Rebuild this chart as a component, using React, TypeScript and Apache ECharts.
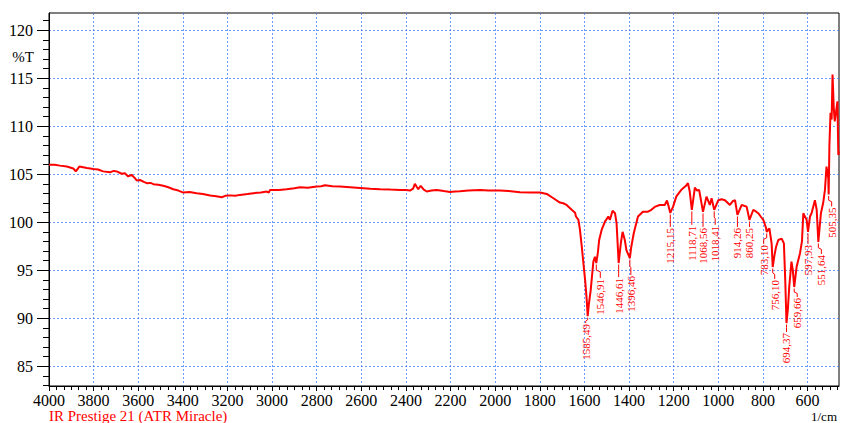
import React, { useEffect, useRef } from 'react';
import * as echarts from 'echarts';

// Spectrum trace (wavenumber in 1/cm, %T)
const WAVENUMBER = [
  4000, 3975, 3951, 3920, 3891, 3880, 3864, 3830, 3801, 3780, 3757, 3727, 3710, 3697, 3674, 3660, 3645, 3630, 3615, 3607,
  3592, 3575, 3562, 3545, 3532, 3510, 3488, 3465, 3443, 3420, 3398, 3370, 3338, 3310, 3278, 3250, 3226, 3210, 3189, 3165,
  3144, 3110, 3084, 3050, 3024, 3015, 3009, 2970, 2935, 2900, 2875, 2840, 2800, 2780, 2763, 2730, 2696, 2650, 2606, 2560,
  2516, 2470, 2427, 2400, 2382, 2368, 2360, 2352, 2345, 2334, 2320, 2307, 2285, 2262, 2230, 2203, 2180, 2158, 2120, 2068,
  2030, 1979, 1940, 1889, 1840, 1799, 1769, 1739, 1710, 1695, 1680, 1657, 1642, 1638, 1627, 1620, 1612, 1597, 1590, 1585.49,
  1580, 1572, 1560, 1553, 1546.91, 1540, 1534, 1523, 1508, 1493, 1486, 1474, 1463, 1456, 1446.61, 1437, 1429, 1419, 1412, 1396.46,
  1390, 1379, 1360, 1338, 1315, 1300, 1285, 1263, 1240, 1230, 1222, 1215.15, 1203, 1188, 1166, 1158, 1145, 1136, 1128, 1118.71,
  1105, 1095, 1086, 1080, 1068.56, 1053, 1038, 1030, 1018.41, 1000, 985, 970, 948, 935, 925, 914.26, 895, 873, 860.25, 843,
  830, 821, 810, 798, 786, 783.1, 771, 761, 756.1, 748, 741, 731, 716, 706, 700, 694.37, 688, 682, 672, 666,
  659.66, 649, 634, 625, 619, 604, 597.93, 589, 582, 567, 559, 551.64, 540, 530, 522, 515, 507, 505.35, 502, 497,
  492, 488, 482, 478, 470, 466, 462, 459,
];
const TRANSMITTANCE = [
  105.98, 106.0, 105.9, 105.8, 105.6, 105.3, 105.8, 105.65, 105.55, 105.5, 105.3, 105.2, 105.35, 105.3, 105.05, 105.1, 104.77, 104.94, 104.6, 104.35,
  104.4, 104.2, 104.07, 104.1, 103.97, 103.9, 103.8, 103.65, 103.44, 103.3, 103.09, 103.15, 103.03, 102.95, 102.78, 102.7, 102.6, 102.75, 102.8, 102.75,
  102.85, 102.95, 103.03, 103.1, 103.2, 103.1, 103.37, 103.35, 103.44, 103.55, 103.65, 103.6, 103.72, 103.75, 103.86, 103.75, 103.72, 103.65, 103.58, 103.5,
  103.44, 103.4, 103.37, 103.35, 103.3, 103.5, 104.0, 103.7, 103.44, 103.8, 103.4, 103.2, 103.3, 103.37, 103.25, 103.16, 103.2, 103.23, 103.3, 103.37,
  103.3, 103.3, 103.25, 103.13, 103.1, 103.1, 102.95, 102.5, 102.05, 101.98, 101.8, 101.3, 101.0, 100.6, 100.24, 99.2, 97.45, 93.98, 92.0, 90.22,
  91.5, 92.9, 95.9, 96.4, 95.75, 96.8, 98.15, 99.2, 100.07, 100.6, 100.24, 101.2, 100.94, 99.9, 95.75, 97.8, 99.0, 98.15, 97.1, 96.27,
  97.45, 98.85, 100.6, 101.1, 101.1, 101.3, 101.6, 101.8, 101.8, 102.26, 101.6, 100.97, 101.6, 102.7, 103.37, 103.55, 103.8, 104.07, 103.2, 101.29,
  103.6, 103.3, 103.37, 102.6, 101.08, 102.67, 101.8, 102.5, 101.29, 102.3, 102.4, 102.3, 101.8, 102.2, 102.3, 100.76, 101.8, 101.63, 100.24, 101.3,
  101.1, 100.94, 100.6, 100.24, 99.4, 98.99, 99.37, 97.8, 95.34, 96.6, 97.45, 98.15, 98.3, 97.8, 94.0, 89.5, 91.0, 93.3, 95.9, 95.0,
  93.25, 95.36, 96.75, 98.0, 100.94, 100.24, 98.99, 100.6, 100.94, 102.3, 101.3, 97.95, 100.94, 102.0, 103.37, 105.8, 104.6, 102.9, 108.0, 111.4,
  110.7, 115.4, 111.7, 110.5, 111.9, 112.6, 107.0, 107.4,
];

// Labelled peaks
const PEAK_WN = [1585.49, 1546.91, 1446.61, 1396.46, 1215.15, 1118.71, 1068.56, 1018.41, 914.26, 860.25, 783.1, 756.1, 694.37, 659.66, 597.93, 551.64, 505.35];
const PEAK_T = [90.22, 95.75, 95.75, 96.27, 100.97, 101.29, 101.08, 101.29, 100.76, 100.24, 98.99, 95.34, 89.5, 93.25, 98.99, 97.95, 102.9];

// Axis ticks
const X_TICKS = [600, 800, 1000, 1200, 1400, 1600, 1800, 2000, 2200, 2400, 2600, 2800, 3000, 3200, 3400, 3600, 3800, 4000];
const Y_TICKS = [85, 90, 95, 100, 105, 110, 115, 120];

// Label leader styling (pixels): horizontal shift and gap below the peak
const LABEL_DX = [-2, 4, 0, 1, 0, 0, 0, 1, 0, 0, -3, 2, 0, 3, 0, 3, 3];
const LABEL_GAP = [8, 16, 15, 18, 15, 16, 16, 16, 13, 8, 13, 13, 10, 11, 13, 13, 13];

const RED = '#ff0000';
const GRID_BLUE = '#3f7cf2';
const SERIF = 'Liberation Serif';

export default function App() {
  const ref = useRef<HTMLDivElement>(null);

  useEffect(() => {
    if (!ref.current) return;
    const chart = echarts.init(ref.current, null, { renderer: 'svg' });

    const lineData = WAVENUMBER.map((w, i) => [w, TRANSMITTANCE[i]]);
    const peakData = PEAK_WN.map((w, i) => [w, PEAK_T[i], w.toFixed(2).replace('.', ',')]);

    const option: any = {
      animation: false,
      backgroundColor: '#ffffff',
      textStyle: { fontFamily: SERIF },
      grid: {
        left: 49,
        right: 4,
        top: 13,
        bottom: 37,
        containLabel: false,
        outerBoundsMode: 'none',
        show: true,
        borderColor: '#000',
        borderWidth: 1,
        backgroundColor: 'transparent',
      },
      xAxis: {
        type: 'value',
        inverse: true,
        min: 459,
        max: 4000,
        minInterval: 200,
        maxInterval: 200,
        axisLine: { show: true, onZero: false, lineStyle: { color: '#000', width: 1 } },
        axisTick: { show: true, length: 5, customValues: X_TICKS, lineStyle: { color: '#000' } },
        minorTick: { show: true, splitNumber: 6, length: 4, lineStyle: { color: '#000' } },
        axisLabel: {
          show: true,
          customValues: X_TICKS,
          formatter: (v: number) => String(v),
          color: '#000',
          fontFamily: SERIF,
          fontSize: 16,
          margin: 6,
        },
        splitLine: { show: true, lineStyle: { color: GRID_BLUE, type: [2, 2], width: 1, opacity: 0.75 } },
      },
      yAxis: {
        type: 'value',
        min: 82.94,
        max: 121.8,
        minInterval: 5,
        maxInterval: 5,
        axisLine: { show: true, onZero: false, lineStyle: { color: '#000', width: 1 } },
        axisTick: { show: true, length: 12, customValues: Y_TICKS, lineStyle: { color: '#000' } },
        minorTick: { show: true, splitNumber: 5, length: 6, lineStyle: { color: '#000' } },
        axisLabel: {
          show: true,
          customValues: Y_TICKS,
          formatter: (v: number) => String(v),
          color: '#000',
          fontFamily: SERIF,
          fontSize: 16,
          margin: 16,
        },
        splitLine: { show: true, lineStyle: { color: GRID_BLUE, type: [2, 2], width: 1, opacity: 0.75 } },
      },
      series: [
        {
          type: 'line',
          data: lineData,
          showSymbol: false,
          symbol: 'none',
          lineStyle: { color: RED, width: 2 },
          itemStyle: { color: RED },
          silent: true,
          z: 3,
        },
        {
          type: 'custom',
          data: peakData,
          silent: true,
          z: 4,
          encode: { x: 0, y: 1 },
          renderItem: (params: any, api: any) => {
            const idx = params.dataIndex;
            const p = api.coord([api.value(0), api.value(1)]);
            const px = p[0];
            const py = p[1];
            const dx = LABEL_DX[idx];
            const gap = LABEL_GAP[idx];
            const lx = px + dx;
            const top = py + gap;
            const mid = py + Math.max(3, gap * 0.45);
            return {
              type: 'group',
              children: [
                {
                  type: 'polyline',
                  shape: {
                    points: [
                      [px, py + 1.5],
                      [px, mid],
                      [lx, mid + (dx === 0 ? 0 : 1.5)],
                      [lx, top - 1],
                    ],
                  },
                  style: { stroke: RED, lineWidth: 1, fill: null },
                },
                {
                  type: 'text',
                  x: lx,
                  y: top,
                  rotation: Math.PI / 2,
                  style: {
                    text: String(peakData[idx][2]),
                    fill: RED,
                    fontFamily: SERIF,
                    fontSize: 11,
                    align: 'right',
                    verticalAlign: 'middle',
                  },
                },
              ],
            };
          },
        },
      ],
      graphic: [
        {
          type: 'text',
          x: 34,
          y: 57,
          style: { text: '%T', fill: '#000', fontFamily: SERIF, fontSize: 15, align: 'right', verticalAlign: 'middle' },
        },
        {
          type: 'text',
          x: 837,
          y: 416.5,
          style: { text: '1/cm', fill: '#000', fontFamily: SERIF, fontSize: 13, align: 'right', verticalAlign: 'middle' },
        },
        {
          type: 'text',
          x: 49,
          y: 415.5,
          style: { text: 'IR Prestige 21 (ATR Miracle)', fill: RED, fontFamily: SERIF, fontSize: 15, align: 'left', verticalAlign: 'middle' },
        },
      ],
    };

    chart.setOption(option);
    return () => chart.dispose();
  }, []);

  return <div ref={ref} style={{ position: 'fixed', left: 0, top: 0, width: 843, height: 423 }} />;
}
